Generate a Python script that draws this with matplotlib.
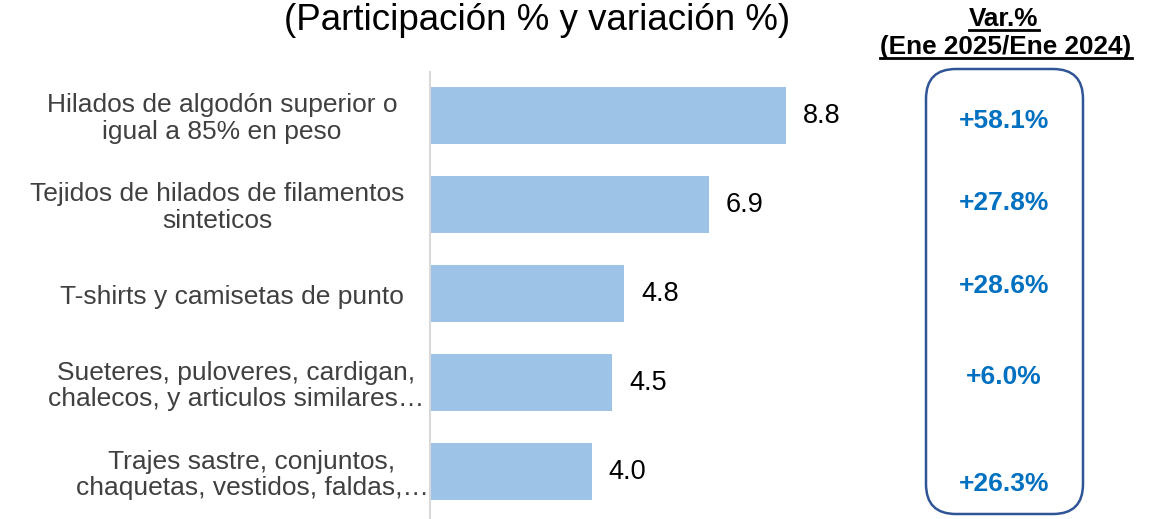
import matplotlib
matplotlib.use("Agg")
import matplotlib.pyplot as plt
import matplotlib.transforms as mtransforms
from matplotlib.patches import FancyBboxPatch
from matplotlib.lines import Line2D

plt.rcParams['font.family'] = ['Liberation Sans', 'DejaVu Sans']

categories = [
    "Hilados de algodón superior o\nigual a 85% en peso",
    "Tejidos de hilados de filamentos\nsinteticos",
    "T-shirts y camisetas de punto",
    "Sueteres, puloveres, cardigan,\nchalecos, y articulos similares…",
    "Trajes sastre, conjuntos,\nchaquetas, vestidos, faldas,…",
]
values = [8.8, 6.9, 4.8, 4.5, 4.0]
variations = ["+58.1%", "+27.8%", "+28.6%", "+6.0%", "+26.3%"]

# layout (pixels)
label_cx_px = [222, 217, 232, 236, 252]
var_y_px = [120, 202, 285, 376, 483]

W, H = 1150, 519
fig = plt.figure(figsize=(W / 100, H / 100), dpi=100)
ax = fig.add_axes([430 / W, 0, 450 / W, (519 - 72) / H])

y = list(range(len(values)))
ax.barh(y, values, height=0.64, color="#9DC3E6")
ax.set_ylim(4.53, -0.49)
ax.set_xlim(0, 450 / 40.45)
for yi, v in zip(y, values):
    ax.text(v + 0.42, yi, f"{v:.1f}", va="center", ha="left", fontsize=19.5, color="#000000")

trans = mtransforms.blended_transform_factory(fig.transFigure, ax.transData) + \
    mtransforms.ScaledTranslation(0, -3 / 100, fig.dpi_scale_trans)
for yi, lab, cx in zip(y, categories, label_cx_px):
    ax.text(cx / W, yi, lab, transform=trans, fontsize=19, color="#404040", ha="center",
            va="center", multialignment="center", linespacing=1.13, clip_on=False)

ax.set_yticks([])
ax.set_xticks([])
for s in ["top", "right", "bottom"]:
    ax.spines[s].set_visible(False)
ax.spines["left"].set_color("#D9D9D9")
ax.spines["left"].set_linewidth(1.5)

fig.text(537 / W, 1 - 21 / H, "(Participación % y variación %)", ha="center", va="center",
         fontsize=26.5, color="#000000")

# Right panel
box = FancyBboxPatch((926 / W, 1 - 514 / H), (1083 - 926) / W, (514 - 69) / H,
                     boxstyle="round,pad=0,rounding_size=0.026", transform=fig.transFigure,
                     facecolor="white", edgecolor="#2F5597", linewidth=1.8, mutation_aspect=W / H)
fig.add_artist(box)

for t, py in zip(variations, var_y_px):
    fig.text(1004 / W, 1 - (py + 1) / H, t, ha="center", va="center", fontsize=19,
             fontweight="bold", color="#0070C0")

hdr1 = fig.text(1004 / W, 1 - 19 / H, "Var.%", ha="center", va="center", fontsize=18.8,
                fontweight="bold", color="#000000")
hdr2 = fig.text(1006 / W, 1 - 47 / H, "(Ene 2025/Ene 2024)", ha="center", va="center",
                fontsize=18.8, fontweight="bold", color="#000000")

fig.canvas.draw()
r = fig.canvas.get_renderer()
for t in (hdr1, hdr2):
    bb = t.get_window_extent(r)
    yline = bb.y0 + 1
    fig.add_artist(Line2D([bb.x0 / W, bb.x1 / W], [yline / H, yline / H],
                          transform=fig.transFigure, color="black", linewidth=2))

fig.savefig("out.png", dpi=100)
